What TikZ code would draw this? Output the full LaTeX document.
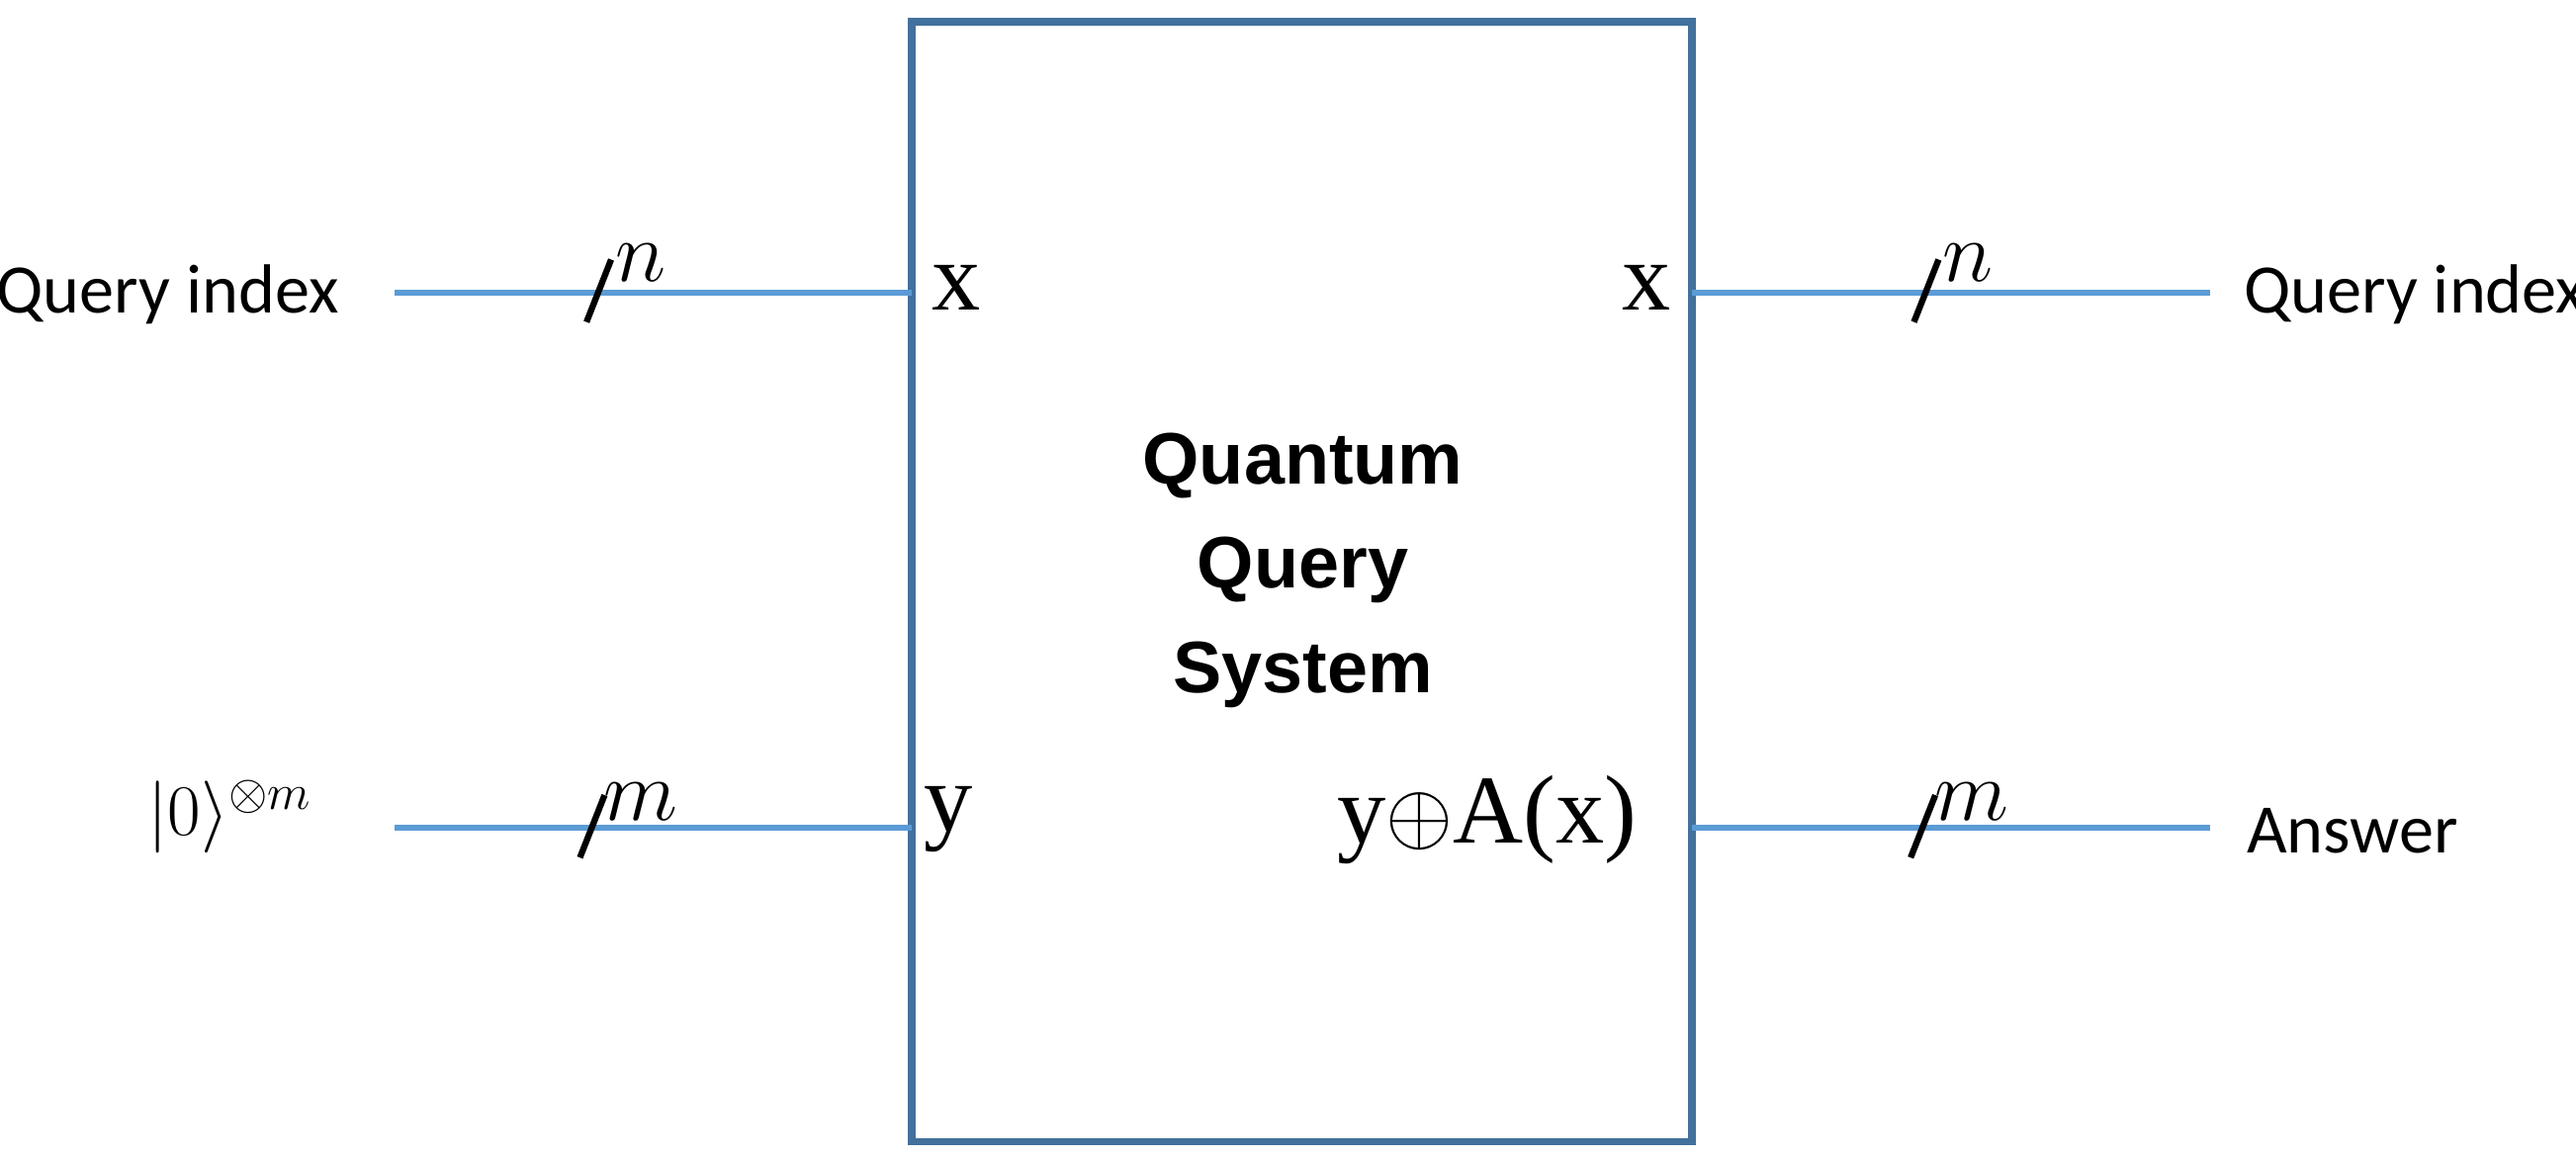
\documentclass[tikz,border=0pt]{standalone}
\usepackage{fontspec}
\setmainfont{Carlito}
\newfontfamily\hd{Liberation Sans}
\newfontfamily\cm{Liberation Serif}
\definecolor{wire}{RGB}{91,155,213}
\definecolor{boxc}{RGB}{65,113,156}
\begin{document}
\begin{tikzpicture}[x=0.01661cm,y=-0.01661cm,
  wire/.style={draw=wire,line width=1.8pt},
  sl/.style={line width=1.8pt},
  lab/.style={font=\fontsize{20}{24}\selectfont},
  port/.style={font=\cm\fontsize{28}{33}\selectfont},
  sup/.style={font=\fontsize{23}{27}\selectfont\itshape}]
\useasboundingbox (0,0) rectangle (1568,705);
\node[draw=boxc,line width=2.2pt,minimum width=7.89cm,minimum height=11.33cm,inner sep=0] (box) at (792.5,354) {};
\node[font=\hd\bfseries\fontsize{21}{30}\selectfont,align=center] (t) at (793,347) {Quantum\\Query\\System};
% left
\node[lab] (qi1) at (102,179) {Query index};
\node[lab] (k0) at (140,497) {$|0\rangle^{\otimes m}$};
\coordinate (a1) at (240,178); \coordinate (b1) at (555,178);
\coordinate (a2) at (240,504); \coordinate (b2) at (555,504);
\draw[wire] (a1) -- (b1); \draw[wire] (a2) -- (b2);
\draw[sl] (357,196) -- (372,158); \node[sup] (n1) at (390,160) {$n$};
\draw[sl] (353,522) -- (368,484); \node[sup] (m1) at (390,488) {$m$};
\node[port] (x1) at (582,175) {x};
\node[port] (y1) at (577,499) {y};
% right
\coordinate (c1) at (1030,178); \coordinate (d1) at (1345,178);
\coordinate (c2) at (1030,504); \coordinate (d2) at (1345,504);
\draw[wire] (c1) -- (d1); \draw[wire] (c2) -- (d2);
\draw[sl] (1165,196) -- (1180,158); \node[sup] (n2) at (1198,160) {$n$};
\draw[sl] (1163,522) -- (1178,484); \node[sup] (m2) at (1200,488) {$m$};
\node[port] (x2) at (1002,175) {x};
\node[port] (ya) at (905,499) {y$\oplus$A(x)};
\node[lab] (qi2) at (1470,179) {Query index};
\node[lab] (ans) at (1432,506) {Answer};
\end{tikzpicture}
\end{document}
